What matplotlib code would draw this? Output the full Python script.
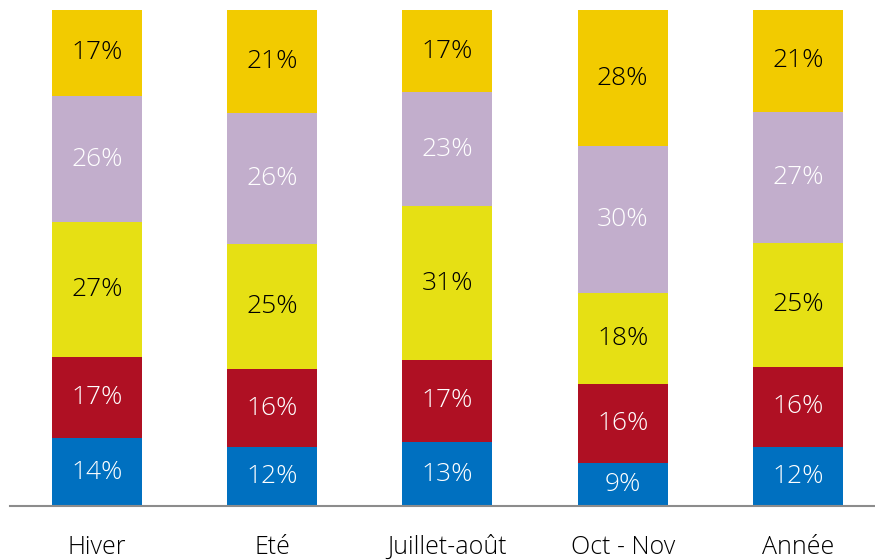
import matplotlib
matplotlib.use("Agg")
import matplotlib.pyplot as plt
import numpy as np

categories = ["Hiver", "Eté", "Juillet-août", "Oct - Nov", "Année"]
# shares (bottom to top)
blue   = [13.7, 11.8, 12.9, 8.6, 11.9]
red    = [16.4, 15.9, 16.6, 16.0, 16.2]
yellow = [27.1, 25.1, 30.9, 18.4, 24.9]
lilac  = [25.5, 26.4, 23.0, 29.5, 26.5]
gold   = [17.3, 20.8, 16.6, 27.5, 20.5]
# displayed labels
lab_blue   = [14, 12, 13, 9, 12]
lab_red    = [17, 16, 17, 16, 16]
lab_yellow = [27, 25, 31, 18, 25]
lab_lilac  = [26, 26, 23, 30, 27]
lab_gold   = [17, 21, 17, 28, 21]

series = [
    (blue, lab_blue, "#0070C0", "white"),
    (red, lab_red, "#AF1023", "white"),
    (yellow, lab_yellow, "#E6E014", "black"),
    (lilac, lab_lilac, "#C2AECC", "white"),
    (gold, lab_gold, "#F2CB00", "black"),
]

plt.rcParams['font.family'] = ['Open Sans', 'DejaVu Sans']
fig = plt.figure(figsize=(8.75, 5.6), dpi=100)
ax = fig.add_axes([0.0114, 0.0964, 0.9886, 0.8857])
x = np.arange(len(categories))
bottom = np.zeros(len(categories))
for vals, labs, col, tcol in series:
    vals = np.array(vals)
    ax.bar(x, vals, bottom=bottom, width=0.514, color=col, edgecolor="none")
    for xi, b, v, l in zip(x, bottom, vals, labs):
        ax.text(xi, b + v / 2, f"{l}%", ha="center", va="center",
                color=tcol, fontsize=19, fontweight="light")
    bottom += vals

ax.set_xlim(-0.496, 4.44)
ax.set_ylim(0, 100)
ax.set_xticks(x)
ax.set_xticklabels(categories, fontsize=18, fontweight="light")
ax.tick_params(axis="x", length=0, pad=21)
ax.set_yticks([])
for s in ["top", "right", "left"]:
    ax.spines[s].set_visible(False)
ax.spines["bottom"].set_color("#8c8c8c")
ax.spines["bottom"].set_linewidth(1.5)
ax.patch.set_alpha(0)
fig.savefig("out.png", dpi=100)
